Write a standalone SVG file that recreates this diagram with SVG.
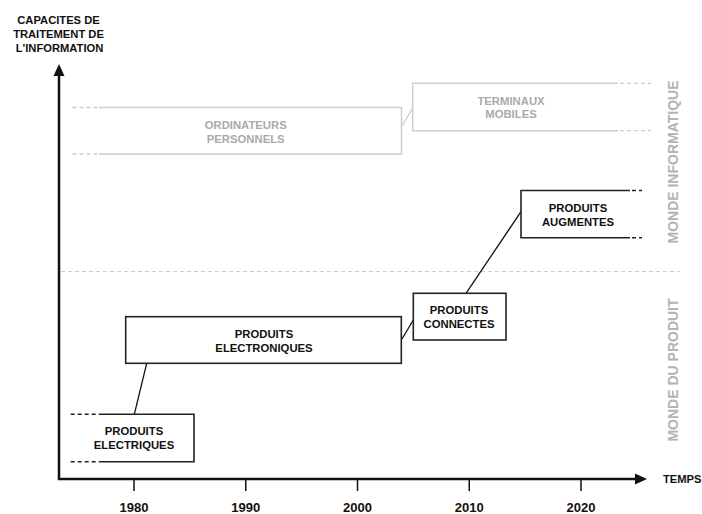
<svg xmlns="http://www.w3.org/2000/svg" width="702" height="514" viewBox="0 0 702 514">
<style>
text{font-family:"Liberation Sans",Arial,sans-serif;font-weight:bold;}
.lbl{font-size:11.3px;text-anchor:middle;fill:#111;}
.glbl{font-size:11.3px;text-anchor:middle;fill:#aaaaaa;}
.side{font-size:14px;text-anchor:middle;fill:#b3b3b3;}
.year{font-size:13px;text-anchor:middle;fill:#111;}
.axis{stroke:#111;stroke-width:2.5;fill:none;}
.tick{stroke:#111;stroke-width:1.5;}
.box{stroke:#222;stroke-width:1.6;fill:none;}
.gbox{stroke:#cccccc;stroke-width:1.5;fill:none;}
.bdash{stroke:#222;stroke-width:1.4;stroke-dasharray:4 3;}
.gdash{stroke:#cccccc;stroke-width:1.3;stroke-dasharray:4 3;}
.conn{stroke:#111;stroke-width:1.3;fill:none;}
.gconn{stroke:#cccccc;stroke-width:1.3;fill:none;}
</style>

<g id="axes">
<polyline class="axis" points="59,74 59,479 637,479"/>
<polygon points="59,64 53.5,76 64.5,76" fill="#111"/>
<polygon points="647,479 635,473.5 635,484.5" fill="#111"/>
<text x="58.5" y="24" style="font-size:11.2px;text-anchor:middle;fill:#111">CAPACITES DE</text>
<text x="58.5" y="38.3" style="font-size:11.2px;text-anchor:middle;fill:#111">TRAITEMENT DE</text>
<text x="59.5" y="52" style="font-size:11.2px;text-anchor:middle;fill:#111">L'INFORMATION</text>
<text x="663" y="483" style="font-size:11.2px;fill:#111">TEMPS</text>
<line class="tick" x1="134" y1="479" x2="134" y2="491"/>
<line class="tick" x1="245.75" y1="479" x2="245.75" y2="491"/>
<line class="tick" x1="357.5" y1="479" x2="357.5" y2="491"/>
<line class="tick" x1="469.25" y1="479" x2="469.25" y2="491"/>
<line class="tick" x1="581" y1="479" x2="581" y2="491"/>
<text class="year" x="134" y="511.5">1980</text>
<text class="year" x="245.75" y="511.5">1990</text>
<text class="year" x="357.5" y="511.5">2000</text>
<text class="year" x="469.25" y="511.5">2010</text>
<text class="year" x="581" y="511.5">2020</text>
</g>

<g id="divider">
<line x1="61" y1="271.5" x2="680" y2="271.5" stroke="#cccccc" stroke-width="1.2" stroke-dasharray="4 3"/>
<text class="side" transform="translate(678,162) rotate(-90)">MONDE INFORMATIQUE</text>
<text class="side" transform="translate(678,370) rotate(-90)">MONDE DU PRODUIT</text>
</g>

<g id="connectors">
<line class="gconn" x1="402" y1="126" x2="412.7" y2="108"/>
<line class="conn" x1="134.3" y1="414.3" x2="146.7" y2="363.3"/>
<line class="conn" x1="402" y1="339" x2="413.3" y2="320"/>
<line class="conn" x1="466" y1="293.3" x2="521" y2="211.7"/>
</g>

<g id="ordinateurs">
<polyline class="gbox" points="99,107.5 401.5,107.5 401.5,154 99,154"/>
<line class="gdash" x1="72.5" y1="107.5" x2="99" y2="107.5"/>
<line class="gdash" x1="72.5" y1="154" x2="99" y2="154"/>
<text class="glbl" x="245.7" y="129.3">ORDINATEURS</text>
<text class="glbl" x="245.7" y="142.5">PERSONNELS</text>
</g>

<g id="terminaux">
<polyline class="gbox" points="618,83.3 412.7,83.3 412.7,130.7 618,130.7"/>
<line class="gdash" x1="620" y1="83.3" x2="651" y2="83.3"/>
<line class="gdash" x1="620" y1="130.7" x2="651" y2="130.7"/>
<text class="glbl" x="511" y="104.5">TERMINAUX</text>
<text class="glbl" x="511" y="117.5">MOBILES</text>
</g>

<g id="electriques">
<polyline class="box" points="99,414.3 194,414.3 194,461.7 99,461.7"/>
<line class="bdash" x1="70.7" y1="414.3" x2="99" y2="414.3"/>
<line class="bdash" x1="70.7" y1="461.7" x2="99" y2="461.7"/>
<text class="lbl" x="134" y="435">PRODUITS</text>
<text class="lbl" x="134" y="448.5">ELECTRIQUES</text>
</g>

<g id="electroniques">
<rect class="box" x="125.7" y="316.7" width="275.6" height="46.6"/>
<text class="lbl" x="264" y="337.5">PRODUITS</text>
<text class="lbl" x="264" y="351.5">ELECTRONIQUES</text>
</g>

<g id="connectes">
<rect class="box" x="413.3" y="293.3" width="92.7" height="46.7"/>
<text class="lbl" x="459" y="314">PRODUITS</text>
<text class="lbl" x="459" y="327.5">CONNECTES</text>
</g>

<g id="augmentes">
<polyline class="box" points="630,190.5 521,190.5 521,237.7 630,237.7"/>
<line class="bdash" x1="632" y1="190.5" x2="642" y2="190.5"/>
<line class="bdash" x1="632" y1="237.7" x2="642" y2="237.7"/>
<text class="lbl" x="578" y="212">PRODUITS</text>
<text class="lbl" x="578" y="226">AUGMENTES</text>
</g>
</svg>
